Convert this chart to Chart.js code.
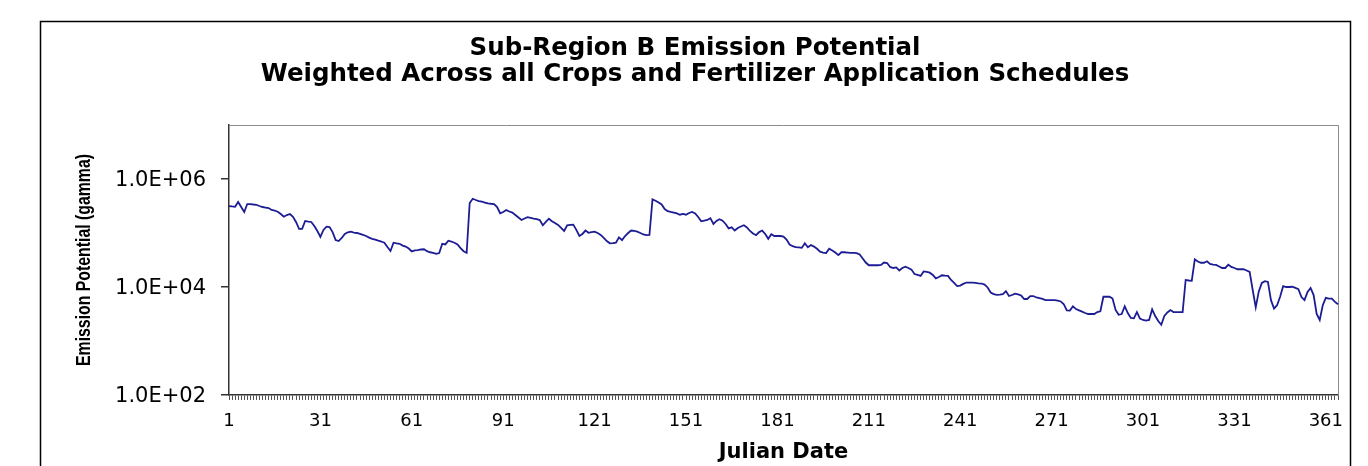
<!DOCTYPE html>
<html>
<head>
<meta charset="utf-8">
<script src="https://cdn.jsdelivr.net/npm/chart.js@4.4.1/dist/chart.umd.min.js"></script>
<style>
  html, body { margin: 0; padding: 0; background: #fff; }
  #wrap { width: 1368px; height: 466px; }
</style>
</head>
<body>
<div id="wrap"><canvas id="emissionChart" width="1368" height="466"></canvas></div>
<script>
// Julian dates 1..365
const days = Array.from({ length: 365 }, (_, i) => String(i + 1));

// emission potential (gamma), one value per day
const emission = [
  316000, 310000, 306000, 375000, 303000, 245000, 344000, 344000, 337000, 333000,
  316000, 303000, 296000, 290000, 267000, 261000, 248000, 225000, 200000, 215000,
  225000, 200000, 160000, 119000, 119000, 167000, 163000, 160000, 135000, 109000,
  85000, 114000, 131000, 129000, 104000, 74000, 71000, 81000, 96000, 103000,
  106000, 102000, 100000, 96000, 92000, 88000, 82000, 78000, 75500, 72000,
  69500, 66000, 55000, 46500, 66000, 64000, 63000, 58500, 56000, 51500,
  45500, 47500, 48000, 49500, 50000, 46000, 44000, 43000, 41000, 42500,
  63000, 61500, 72000, 69500, 66000, 61500, 52500, 46000, 43000, 359000,
  431000, 408000, 391000, 380000, 367000, 354000, 348000, 344000, 303000, 232000,
  245000, 267000, 250000, 238000, 215000, 194000, 174000, 186000, 196000, 190000,
  184000, 180000, 174000, 139000, 160000, 184000, 165000, 153000, 141000, 124000,
  109000, 139000, 141000, 143000, 114000, 88000, 96000, 111000, 101000, 104000,
  106000, 100000, 92000, 81000, 71000, 64500, 65000, 66000, 83000, 74000,
  88000, 100000, 111000, 109000, 106000, 100000, 94000, 91000, 92000, 420000,
  396000, 367000, 337000, 278000, 253000, 245000, 238000, 230000, 218000, 225000,
  218000, 235000, 245000, 230000, 198000, 165000, 170000, 174000, 188000, 147000,
  167000, 180000, 169000, 147000, 122000, 127000, 111000, 124000, 132000, 139000,
  127000, 109000, 98000, 91000, 104000, 111000, 96000, 78000, 95000, 88000,
  88000, 88000, 86000, 75500, 61000, 57000, 55000, 54000, 53000, 64500,
  54500, 60000, 56000, 51000, 45000, 43500, 42500, 51000, 47500, 43500,
  39000, 44000, 44000, 43500, 43000, 43000, 42500, 40000, 33700, 28400,
  25300, 25300, 25300, 25300, 25600, 28400, 27800, 23500, 22500, 23000,
  20200, 22500, 23800, 22500, 21000, 17400, 16700, 16000, 19400, 19000,
  18400, 16700, 14400, 15300, 16500, 16200, 16000, 13500, 11900, 10400,
  10600, 11400, 12100, 12100, 12000, 11900, 11700, 11600, 11100, 9800,
  7900, 7400, 7150, 7250, 7400, 8400, 6800, 7100, 7550, 7300,
  6950, 6000, 6000, 6800, 6800, 6400, 6200, 6000, 5700, 5700,
  5700, 5700, 5600, 5400, 4800, 3700, 3650, 4400, 3900, 3700,
  3500, 3300, 3160, 3160, 3160, 3440, 3550, 6600, 6600, 6600,
  6100, 3750, 3060, 3160, 4400, 3300, 2670, 2630, 3440, 2590,
  2450, 2380, 2450, 3850, 2900, 2350, 2000, 2900, 3370, 3750,
  3440, 3440, 3440, 3440, 13500, 13200, 13000, 32600, 29600, 28100,
  28100, 30000, 26700, 25900, 25600, 24000, 22500, 22500, 25900, 23500,
  22500, 21300, 21300, 21300, 20200, 19000, 8800, 4200, 8300, 11900,
  12800, 12400, 5700, 4000, 4600, 6600, 10400, 10000, 10000, 10100,
  9600, 9100, 6500, 5700, 8100, 9600, 7100, 3160, 2450, 4600,
  6300, 6100, 6100, 5300, 4800
];

// axis labels
const xTickLabels = ["1", "31", "61", "91", "121", "151", "181", "211", "241", "271", "301", "331", "361"];
const yTickValues = [1e2, 1e4, 1e6];
const yTickLabels = ["1.0E+02", "1.0E+04", "1.0E+06"];
const yTitle = "Emission Potential (gamma)";

// outer frame, grey top/right edges of the plot box, narrow y title
const framePlugin = {
  id: "frame",
  beforeDraw(chart) {
    const ctx = chart.ctx;
    ctx.save();
    ctx.fillStyle = "#fff";
    ctx.fillRect(0, 0, chart.width, chart.height);
    ctx.strokeStyle = "#000";
    ctx.lineWidth = 1.5;
    ctx.strokeRect(40.5, 21.5, 1310, 470);
    ctx.restore();
  },
  beforeDatasetsDraw(chart) {
    const { ctx, chartArea: a } = chart;
    ctx.save();
    ctx.strokeStyle = "#8c8c8c";
    ctx.lineWidth = 1;
    ctx.beginPath();
    ctx.moveTo(a.left, a.top + 0.5);
    ctx.lineTo(a.right + 0.5, a.top + 0.5);
    ctx.lineTo(a.right + 0.5, a.bottom);
    ctx.stroke();
    ctx.restore();
  },
  afterDraw(chart) {
    // condensed bold title, like the narrow font in the original
    const { ctx, chartArea: a } = chart;
    ctx.save();
    ctx.font = "bold 20px 'Liberation Sans', Arial, sans-serif";
    ctx.fillStyle = "#000";
    ctx.textAlign = "center";
    ctx.textBaseline = "middle";
    const w = ctx.measureText(yTitle).width;
    ctx.translate(84, (a.top + a.bottom) / 2);
    ctx.rotate(-Math.PI / 2);
    ctx.scale(212 / w, 1);
    ctx.fillText(yTitle, 0, 0);
    ctx.restore();
  },
};

const ctx = document.getElementById("emissionChart").getContext("2d");
new Chart(ctx, {
  type: "line",
  data: {
    labels: days,
    datasets: [
      {
        label: "Emission Potential",
        data: emission,
        borderColor: "#1c1c94",
        borderWidth: 1.8,
        pointRadius: 0,
        tension: 0,
        fill: false,
      },
    ],
  },
  options: {
    responsive: false,
    animation: false,
    layout: { padding: { left: 40, right: 18, top: 23, bottom: 0 } },
    plugins: {
      legend: { display: false },
      tooltip: { enabled: false },
      title: {
        display: true,
        text: ["Sub-Region B Emission Potential", "Weighted Across all Crops and Fertilizer Application Schedules"],
        color: "#000",
        font: { family: "DejaVu Sans", size: 24.5, weight: "bold", lineHeight: "26px" },
        padding: { top: 13, bottom: 37 },
      },
    },
    scales: {
      x: {
        type: "category",
        offset: false,
        border: { color: "#333", width: 1.5 },
        grid: { drawOnChartArea: false, drawTicks: true, tickLength: 5, color: "#555", lineWidth: 1 },
        ticks: {
          autoSkip: false,
          maxRotation: 0,
          minRotation: 0,
          padding: 11,
          color: "#000",
          font: { family: "DejaVu Sans", size: 18 },
          callback: function (value) {
            const lab = this.getLabelForValue(value);
            return xTickLabels.includes(lab) ? lab : "";
          },
        },
        title: {
          display: true,
          text: "Julian Date",
          color: "#000",
          font: { family: "DejaVu Sans", size: 21, weight: "bold" },
          padding: { top: 0, bottom: 1 },
        },
        afterFit: (s) => { s.height = 71; },
      },
      y: {
        type: "logarithmic",
        min: 1e2,
        max: 1e7,
        border: { color: "#333", width: 1.5 },
        grid: { drawOnChartArea: false, drawTicks: true, tickLength: 8, color: "#333", lineWidth: 1.5 },
        afterBuildTicks: (s) => { s.ticks = yTickValues.map((v) => ({ value: v })); },
        ticks: {
          padding: 15,
          labelOffset: 2,
          color: "#000",
          font: { family: "DejaVu Sans", size: 21 },
          callback: (value) => {
            const i = yTickValues.indexOf(value);
            return i >= 0 ? yTickLabels[i] : "";
          },
        },
        title: { display: false },
        afterFit: (s) => { s.width = 189; },
      },
      yRight: {
        type: "linear",
        position: "right",
        display: true,
        grid: { display: false },
        border: { display: false },
        ticks: { display: false },
        afterFit: (s) => { s.width = 12; },
      },
    },
  },
  plugins: [framePlugin],
});
</script>
</body>
</html>
